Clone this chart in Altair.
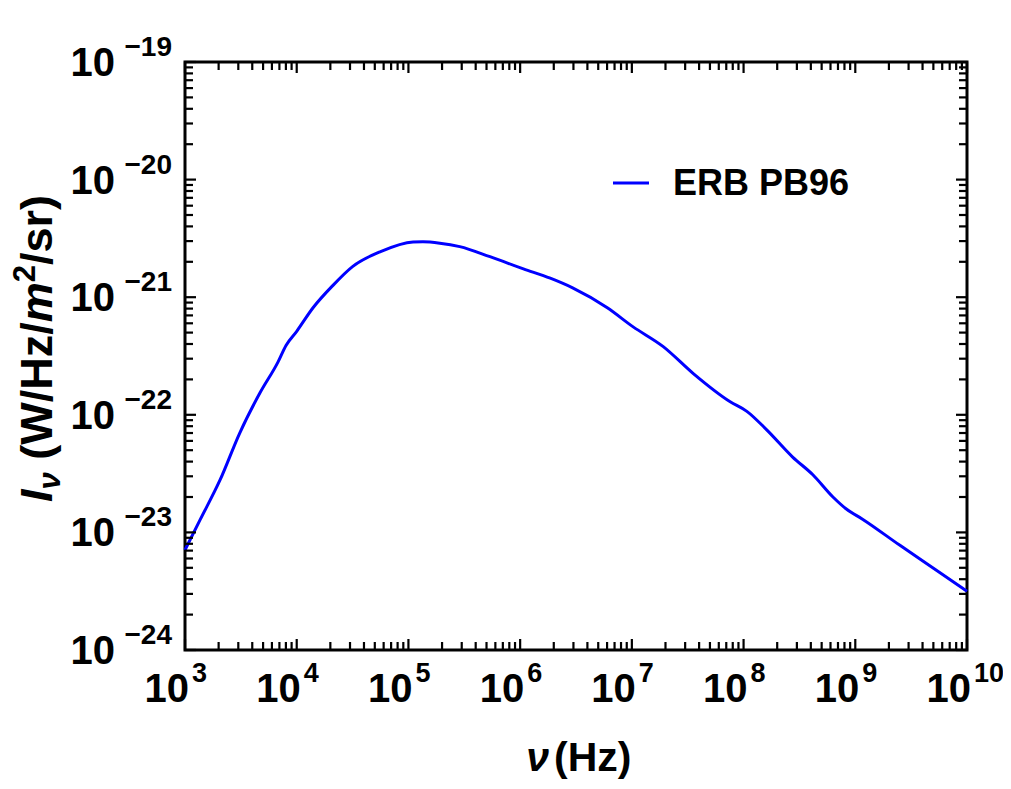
import altair as alt
import pandas as pd

# ---- data ----
nu = [1.0e3, 1.36e3, 2.06e3, 3.09e3, 4.68e3, 6.81e3, 8.02e3, 1.0e4, 1.40e4, 2.11e4,
      3.16e4, 5.57e4, 1.10e5, 1.35e5, 1.91e5, 2.88e5, 5.37e5, 1.07e6, 1.86e6, 2.95e6,
      6.03e6, 1.02e7, 1.91e7, 3.55e7, 7.59e7, 1.07e8, 1.62e8, 2.75e8, 4.17e8, 6.31e8,
      8.32e8, 1.17e9, 2.51e9, 5.01e9, 1.0e10]
intensity = [7.08e-24, 1.27e-23, 2.79e-23, 7.0e-23, 1.53e-22, 2.82e-22, 3.89e-22, 5.13e-22,
             8.13e-22, 1.26e-21, 1.82e-21, 2.43e-21, 2.95e-21, 2.96e-21, 2.88e-21, 2.69e-21,
             2.21e-21, 1.74e-21, 1.45e-21, 1.20e-21, 8.13e-22, 5.62e-22, 3.80e-22, 2.24e-22,
             1.29e-22, 1.07e-22, 7.41e-23, 4.37e-23, 3.09e-23, 2.0e-23, 1.58e-23, 1.29e-23,
             7.76e-24, 4.95e-24, 3.16e-24]
series_name = "ERB PB96"

x_decades = [3, 4, 5, 6, 7, 8, 9, 10]
y_decades = [-19, -20, -21, -22, -23, -24]
minor_mult = [2, 3, 4, 5, 6, 7, 8, 9]
x_exp_labels = ["3", "4", "5", "6", "7", "8", "9", "10"]
y_exp_labels = ["\u221219", "\u221220", "\u221221", "\u221222", "\u221223", "\u221224"]

# ---- layout ----
W, H = 782, 588
F = "Liberation Sans"
BLUE = "#0000ff"

xs = alt.Scale(type="log", domain=[1e3, 1e10], nice=False)
ys = alt.Scale(type="log", domain=[1e-24, 1e-19], nice=False)

line_df = pd.DataFrame({"nu": nu, "I": intensity})

x_major = [10.0 ** d for d in x_decades]
x_minor = [m * 10.0 ** d for d in x_decades[:-1] for m in minor_mult]
y_major = [10.0 ** d for d in y_decades]
y_minor = [m * 10.0 ** d for d in y_decades[1:] for m in minor_mult]

one = pd.DataFrame({"k": [0]})


def xticks(vals, length):
    df = pd.DataFrame({"v": vals})
    xe = alt.X("v:Q", scale=xs, axis=None)
    bottom = alt.Chart(df).mark_rule(color="black", strokeWidth=2.2).encode(
        x=xe, y=alt.value(H), y2=alt.value(H - length))
    top = alt.Chart(df).mark_rule(color="black", strokeWidth=2.2).encode(
        x=xe, y=alt.value(0), y2=alt.value(length))
    return [bottom, top]


def yticks(vals, length):
    df = pd.DataFrame({"v": vals})
    ye = alt.Y("v:Q", scale=ys, axis=None)
    left = alt.Chart(df).mark_rule(color="black", strokeWidth=2.2).encode(
        y=ye, x=alt.value(0), x2=alt.value(length))
    right = alt.Chart(df).mark_rule(color="black", strokeWidth=2.2).encode(
        y=ye, x=alt.value(W), x2=alt.value(W - length))
    return [left, right]


def txt(s, x, y, size, style="normal", angle=None, align="left"):
    kw = dict(text=s, font=F, fontSize=size, fontWeight="bold", fontStyle=style,
              align=align, baseline="alphabetic", color="black")
    if angle is not None:
        kw["angle"] = angle
    return alt.Chart(one).mark_text(**kw).encode(x=alt.value(x), y=alt.value(y))


layers = []

curve = alt.Chart(line_df).mark_line(color=BLUE, strokeWidth=3, interpolate="monotone").encode(
    x=alt.X("nu:Q", scale=xs, axis=None),
    y=alt.Y("I:Q", scale=ys, axis=None),
)
layers.append(curve)

layers += xticks(x_major, 11) + xticks(x_minor, 8)
layers += yticks(y_major, 11) + yticks(y_minor, 8)

# x tick labels
xlab = pd.DataFrame({"v": x_major, "base": ["10"] * len(x_major), "exp": x_exp_labels})
layers.append(alt.Chart(xlab).mark_text(font=F, fontSize=40, fontWeight="bold", align="right",
                                        baseline="alphabetic", dx=4, color="black").encode(
    x=alt.X("v:Q", scale=xs, axis=None), y=alt.value(H + 52), text="base:N"))
layers.append(alt.Chart(xlab).mark_text(font=F, fontSize=27, fontWeight="bold", align="left",
                                        baseline="alphabetic", dx=7, color="black").encode(
    x=alt.X("v:Q", scale=xs, axis=None), y=alt.value(H + 32), text="exp:N"))

# y tick labels
ylab = pd.DataFrame({"v": y_major, "base": ["10"] * len(y_major), "exp": y_exp_labels})
layers.append(alt.Chart(ylab).mark_text(font=F, fontSize=40, fontWeight="bold", align="right",
                                        baseline="alphabetic", dy=14, color="black").encode(
    y=alt.Y("v:Q", scale=ys, axis=None), x=alt.value(-70), text="base:N"))
layers.append(alt.Chart(ylab).mark_text(font=F, fontSize=28, fontWeight="bold", align="right",
                                        baseline="alphabetic", dy=-6, color="black").encode(
    y=alt.Y("v:Q", scale=ys, axis=None), x=alt.value(-13), text="exp:N"))

# x title: ν (Hz)
layers.append(txt("\u03bd", 364, H + 121, 41, style="italic", align="right"))
layers.append(txt("(Hz)", 369, H + 121, 41))

# y title: I_ν (W/Hz/m²/sr), rotated
big, small = 45, 31
base_x = -133
pieces = [
    ("I", big, "italic", base_x, 0.278),
    ("\u03bd", small, "italic", base_x + 8, 0.556),
    ("", big, "normal", base_x, 0.278),          # word space
    ("(W/Hz/", big, "normal", base_x, 3.055),
    ("m", big, "italic", base_x, 0.889),
    ("2", small, "normal", base_x - 17, 0.556),
    ("/sr)", big, "normal", base_x, 1.556),
]
pos = 440
for s, size, style, px, em in pieces:
    if s:
        layers.append(txt(s, px, pos, size, style=style, angle=270))
    pos -= em * size

# legend
layers.append(alt.Chart(one).mark_rule(color=BLUE, strokeWidth=3).encode(
    x=alt.value(428), x2=alt.value(464), y=alt.value(121)))
layers.append(txt(series_name, 488, 133, 36))

chart = alt.layer(*layers).properties(
    width=W, height=H,
    autosize=alt.AutoSizeParams(type="none"),
    padding={"left": 177, "top": 54, "right": 995 - 177 - W, "bottom": 773 - 54 - H},
    background="white",
).configure_view(stroke="black", strokeWidth=3)

chart.save("out.html", embed_options={"renderer": "svg", "actions": False})
